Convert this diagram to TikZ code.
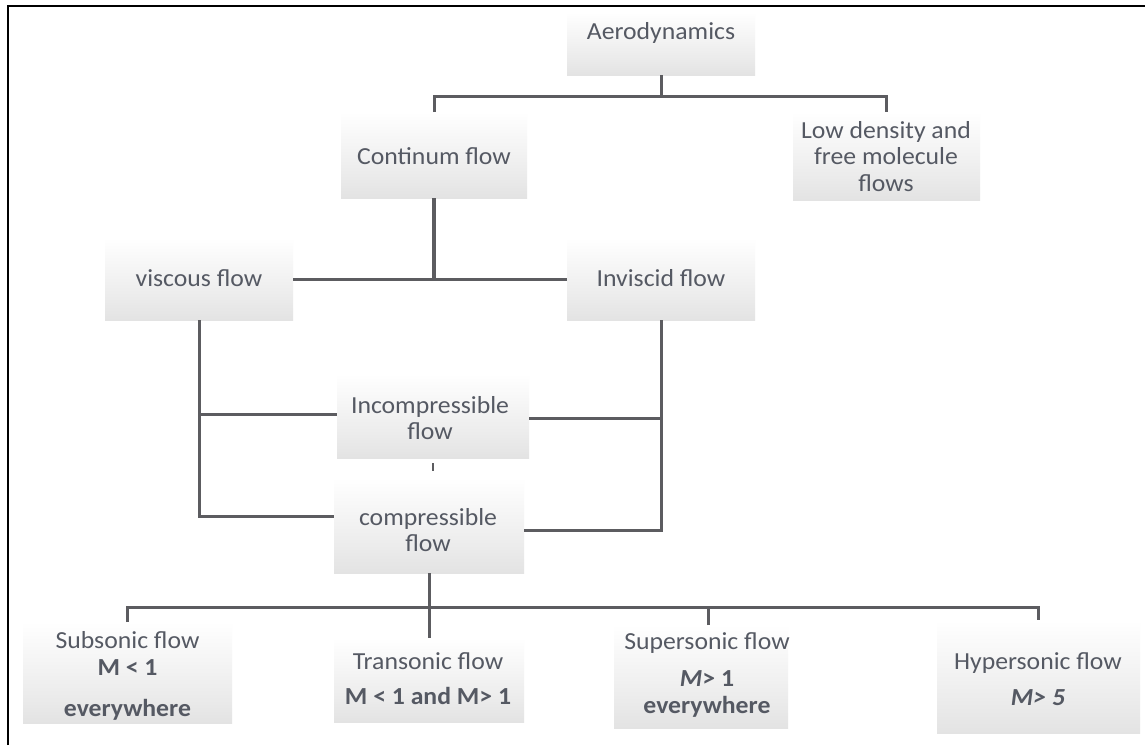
\documentclass[tikz,border=0pt]{standalone}
\usepackage{fontspec}
\setmainfont{Carlito}[FakeStretch=1.05]
\definecolor{txt}{RGB}{85,89,99}
\definecolor{ln}{RGB}{92,92,96}
\definecolor{bxbot}{RGB}{212,212,212}
\definecolor{bxmid}{RGB}{236,236,236}
\pgfdeclareverticalshading{boxsh}{100bp}{color(0bp)=(bxbot); color(40bp)=(bxmid); color(75bp)=(white); color(100bp)=(white)}
\begin{document}
\begin{tikzpicture}[x=1pt,y=-1pt,
  box/.style={draw=none, shading=boxsh, inner sep=0pt, outer sep=0pt},
  lbl/.style={text=txt, font=\fontsize{24.5}{26.5}\selectfont, align=center, inner sep=0pt},
  conn/.style={draw=ln, line width=3pt},
  frame/.style={draw=black, line width=2.2pt}]
\useasboundingbox (0,0) rectangle (1145,745);
\fill[white] (0,0) rectangle (1145,745);

% boxes
\node[box, minimum width=188pt, minimum height=63pt] (aero) at (661,43.5) {};
\node[box, minimum width=186pt, minimum height=86pt] (cont) at (434,155) {};
\node[box, minimum width=187pt, minimum height=88pt] (low) at (886.5,156) {};
\node[box, minimum width=188pt, minimum height=82pt] (visc) at (199,279) {};
\node[box, minimum width=188pt, minimum height=82pt] (invisc) at (661,279) {};
\node[box, minimum width=192pt, minimum height=84pt] (incomp) at (433,416) {};
\node[box, minimum width=190pt, minimum height=95pt] (comp) at (429,525.5) {};
\node[box, minimum width=209pt, minimum height=101pt] (sub) at (127.5,672.5) {};
\node[box, minimum width=190pt, minimum height=84pt] (trans) at (429,680) {};
\node[box, minimum width=174pt, minimum height=103pt] (sup) at (701,676.5) {};
\node[box, minimum width=203pt, minimum height=113pt] (hyp) at (1038.5,676.5) {};

% texts
\node[lbl] (aeroT) at (661,33) {Aerodynamics};
\node[lbl] (contT) at (434,156) {Continum flow};
\node[lbl] (lowT) at (886,156.5) {Low density and\\free molecule\\flows};
\node[lbl] (viscT) at (199,278) {viscous flow};
\node[lbl] (invT) at (661,278) {Inviscid flow};
\node[lbl] (incT) at (430,418) {Incompressible\\flow};
\node[lbl] (compT) at (428,530) {compressible\\flow};
\node[lbl] (subT) at (127.5,676) {Subsonic flow\\\textbf{M < 1}\\[14.5pt]\textbf{everywhere}};
\node[lbl] (transT) at (428,678.5) {Transonic flow\\[8.5pt]\textbf{M < 1 and M> 1}};
\node[lbl] (supT) at (707,675) {Supersonic flow\\[10.5pt]\textbf{\textit{M}> 1}\\\textbf{everywhere}};
\node[lbl] (hypT) at (1038,679) {Hypersonic flow\\[9.5pt]\textbf{\textit{M> 5}}};

% connectors
\coordinate (tj) at (661,96);
\draw[conn] (aero.south) -- (aero.south |- tj);
\draw[conn] (cont.north) -- (cont.north |- tj) -- (low.north |- tj) -- (low.north);
\draw[conn, line width=3.6pt] (cont.south) -- (cont.south |- visc.east);
\draw[conn] (visc.east) -- (invisc.west);

\coordinate (il) at ([yshift=2pt]incomp.west);
\coordinate (ir) at ([yshift=-2pt]incomp.east);
\coordinate (cl) at ([yshift=9.5pt]comp.west);
\coordinate (cr) at ([yshift=-4.5pt]comp.east);
\draw[conn] (visc.south) -- (visc.south |- cl) -- (cl);
\draw[conn] (visc.south |- il) -- (il);
\draw[conn] (invisc.south) -- (invisc.south |- cr) -- (cr);
\draw[conn] (invisc.south |- ir) -- (ir);
\coordinate (tk1) at ([yshift=-5pt]incomp.south);
\coordinate (tk2) at ([yshift=-13pt]incomp.south);
\draw[conn, line width=2pt] (tk1) -- (tk2);

\coordinate (bj) at (429,607);
\draw[conn] (comp.south) -- (trans.north);
\draw[conn] (sub.north) -- (sub.north |- bj) -- (hyp.north |- bj) -- (hyp.north);
\coordinate (st) at ([xshift=7pt]sup.north);
\draw[conn] (st) -- (st |- bj);

% frame
\draw[frame] (8,745) -- (8,6) -- (1145,6);
\end{tikzpicture}
\end{document}
